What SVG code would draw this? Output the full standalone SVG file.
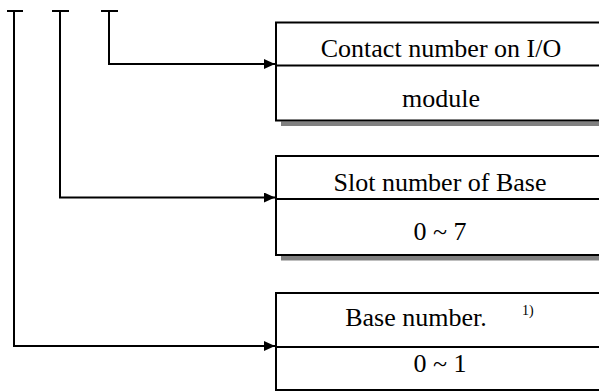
<svg xmlns="http://www.w3.org/2000/svg" width="599" height="392" viewBox="0 0 599 392">
<style>
.ln{fill:none;stroke:#000;stroke-width:2}
.box{fill:#fff;stroke:#000;stroke-width:2}
.sh{fill:#808080}
.t{font-family:"Liberation Serif","Times New Roman",serif;font-size:26px;fill:#000;text-anchor:middle}
.sup{font-family:"Liberation Serif","Times New Roman",serif;font-size:14px;fill:#000}
</style>
<defs>
<marker id="ah" markerUnits="userSpaceOnUse" markerWidth="12" markerHeight="10" refX="11" refY="5" orient="auto">
<path d="M0,0 L11,5 L0,10 Z" fill="#000"/>
</marker>
</defs>
<rect width="599" height="392" fill="#fff"/>
<g id="node-contact">
<rect class="sh" x="281" y="121.5" width="330" height="4.5"/>
<rect class="box" x="276" y="22.5" width="330" height="98"/>
<line class="ln" x1="276" y1="65.5" x2="606" y2="65.5"/>
<text class="t" x="441" y="57">Contact number on I/O</text>
<text class="t" x="441" y="107">module</text>
</g>
<g id="node-slot">
<rect class="sh" x="281" y="256" width="330" height="4.5"/>
<rect class="box" x="276" y="156" width="330" height="99"/>
<line class="ln" x1="276" y1="199" x2="606" y2="199"/>
<text class="t" x="440" y="191">Slot number of Base</text>
<text class="t" x="440" y="240">0 ~ 7</text>
</g>
<g id="node-base">
<rect class="box" x="276" y="293" width="330" height="97"/>
<line class="ln" x1="276" y1="347" x2="606" y2="347"/>
<text class="t" x="416" y="326">Base number.</text>
<text class="sup" x="522" y="315">1)</text>
<text class="t" x="440" y="372">0 ~ 1</text>
</g>
<g id="connectors">
<line class="ln" x1="7" y1="11" x2="23" y2="11"/>
<line class="ln" x1="52" y1="11" x2="69" y2="11"/>
<line class="ln" x1="101" y1="11" x2="118" y2="11"/>
<path class="ln" d="M109,11 V64 H275" marker-end="url(#ah)"/>
<path class="ln" d="M60,11 V197.5 H275" marker-end="url(#ah)"/>
<path class="ln" d="M14,11 V346 H275" marker-end="url(#ah)"/>
</g>
</svg>
